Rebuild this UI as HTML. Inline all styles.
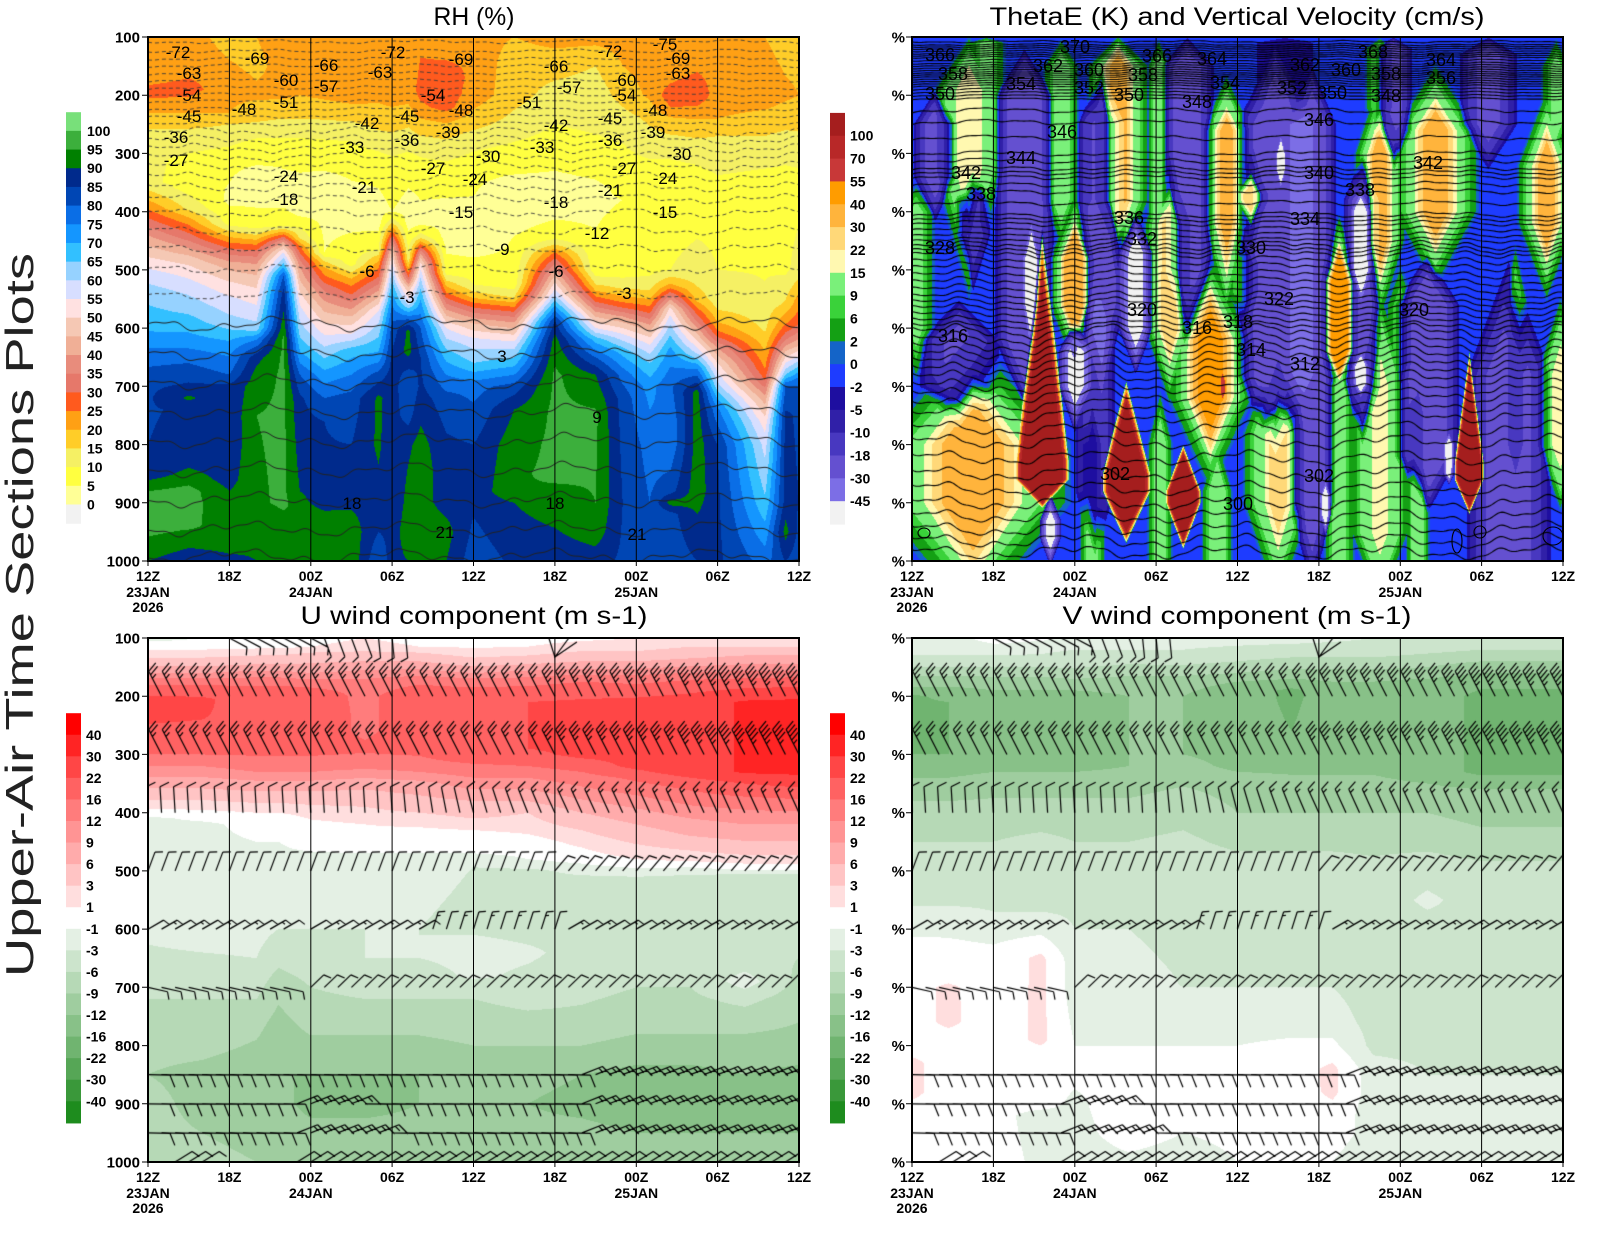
<!DOCTYPE html>
<html><head><meta charset="utf-8">
<style>
html,body{margin:0;padding:0;background:#fff}
body{width:1600px;height:1236px;position:relative;overflow:hidden}
canvas{position:absolute}
#ov{position:absolute;left:0;top:0}
text{font-family:"Liberation Sans",Arial,sans-serif;fill:#000}
.ax{font-size:15px;font-weight:bold}
.tl{font-size:14px;font-weight:bold;text-anchor:middle}
.cb{font-size:14px;font-weight:bold}
.cl{font-size:17px;text-anchor:middle}
.th{font-size:18px;text-anchor:middle}
</style></head><body>
<canvas id="rh" width="651" height="524" style="left:148px;top:37px"></canvas>
<canvas id="th" width="651" height="524" style="left:912px;top:37px"></canvas>
<canvas id="uu" width="651" height="524" style="left:148px;top:638px"></canvas>
<canvas id="vv" width="651" height="524" style="left:912px;top:638px"></canvas>
<svg id="ov" width="1600" height="1236" xmlns="http://www.w3.org/2000/svg">
<g id="geo"></g>
<text x="474" y="25" font-size="25" text-anchor="middle" textLength="81" lengthAdjust="spacingAndGlyphs">RH (%)</text>
<text x="1237" y="25" font-size="25" text-anchor="middle" textLength="495" lengthAdjust="spacingAndGlyphs">ThetaE (K) and Vertical Velocity (cm/s)</text>
<text x="474" y="624" font-size="25" text-anchor="middle" textLength="347" lengthAdjust="spacingAndGlyphs">U wind component (m s-1)</text>
<text x="1237" y="624" font-size="25" text-anchor="middle" textLength="349" lengthAdjust="spacingAndGlyphs">V wind component (m s-1)</text>
<text transform="translate(33,977) rotate(-90)" font-size="39" textLength="724" lengthAdjust="spacingAndGlyphs" style="fill:#222">Upper-Air Time Sections Plots</text>
<g class="ax" text-anchor="end">
<text x="140" y="42.5">100</text><text x="140" y="100.7">200</text><text x="140" y="158.9">300</text><text x="140" y="217.2">400</text><text x="140" y="275.4">500</text><text x="140" y="333.6">600</text><text x="140" y="391.8">700</text><text x="140" y="450.1">800</text><text x="140" y="508.3">900</text><text x="140" y="566.5">1000</text>
<text x="140" y="643.5">100</text><text x="140" y="701.7">200</text><text x="140" y="759.9">300</text><text x="140" y="818.2">400</text><text x="140" y="876.4">500</text><text x="140" y="934.6">600</text><text x="140" y="992.8">700</text><text x="140" y="1051.1">800</text><text x="140" y="1109.3">900</text><text x="140" y="1167.5">1000</text>
<text x="905" y="42.5">%</text><text x="905" y="100.7">%</text><text x="905" y="158.9">%</text><text x="905" y="217.2">%</text><text x="905" y="275.4">%</text><text x="905" y="333.6">%</text><text x="905" y="391.8">%</text><text x="905" y="450.1">%</text><text x="905" y="508.3">%</text><text x="905" y="566.5">%</text>
<text x="905" y="643.5">%</text><text x="905" y="701.7">%</text><text x="905" y="759.9">%</text><text x="905" y="818.2">%</text><text x="905" y="876.4">%</text><text x="905" y="934.6">%</text><text x="905" y="992.8">%</text><text x="905" y="1051.1">%</text><text x="905" y="1109.3">%</text><text x="905" y="1167.5">%</text>
</g>
<g class="tl">
<text x="148" y="581">12Z</text><text x="229.4" y="581">18Z</text><text x="310.8" y="581">00Z</text><text x="392.1" y="581">06Z</text><text x="473.5" y="581">12Z</text><text x="554.9" y="581">18Z</text><text x="636.3" y="581">00Z</text><text x="717.6" y="581">06Z</text><text x="799" y="581">12Z</text>
<text x="148" y="597">23JAN</text><text x="310.8" y="597">24JAN</text><text x="636.3" y="597">25JAN</text><text x="148" y="612">2026</text>
<text x="912" y="581">12Z</text><text x="993.4" y="581">18Z</text><text x="1074.8" y="581">00Z</text><text x="1156.1" y="581">06Z</text><text x="1237.5" y="581">12Z</text><text x="1318.9" y="581">18Z</text><text x="1400.3" y="581">00Z</text><text x="1481.6" y="581">06Z</text><text x="1563" y="581">12Z</text>
<text x="912" y="597">23JAN</text><text x="1074.8" y="597">24JAN</text><text x="1400.3" y="597">25JAN</text><text x="912" y="612">2026</text>
<text x="148" y="1182">12Z</text><text x="229.4" y="1182">18Z</text><text x="310.8" y="1182">00Z</text><text x="392.1" y="1182">06Z</text><text x="473.5" y="1182">12Z</text><text x="554.9" y="1182">18Z</text><text x="636.3" y="1182">00Z</text><text x="717.6" y="1182">06Z</text><text x="799" y="1182">12Z</text>
<text x="148" y="1198">23JAN</text><text x="310.8" y="1198">24JAN</text><text x="636.3" y="1198">25JAN</text><text x="148" y="1213">2026</text>
<text x="912" y="1182">12Z</text><text x="993.4" y="1182">18Z</text><text x="1074.8" y="1182">00Z</text><text x="1156.1" y="1182">06Z</text><text x="1237.5" y="1182">12Z</text><text x="1318.9" y="1182">18Z</text><text x="1400.3" y="1182">00Z</text><text x="1481.6" y="1182">06Z</text><text x="1563" y="1182">12Z</text>
<text x="912" y="1198">23JAN</text><text x="1074.8" y="1198">24JAN</text><text x="1400.3" y="1198">25JAN</text><text x="912" y="1213">2026</text>
</g>
<g class="cb">
<text x="87" y="135.9">100</text><text x="87" y="154.6">95</text><text x="87" y="173.2">90</text><text x="87" y="191.9">85</text><text x="87" y="210.6">80</text><text x="87" y="229.3">75</text><text x="87" y="248">70</text><text x="87" y="266.6">65</text><text x="87" y="285.3">60</text><text x="87" y="304">55</text><text x="87" y="322.7">50</text><text x="87" y="341.4">45</text><text x="87" y="360">40</text><text x="87" y="378.7">35</text><text x="87" y="397.4">30</text><text x="87" y="416.1">25</text><text x="87" y="434.8">20</text><text x="87" y="453.4">15</text><text x="87" y="472.1">10</text><text x="87" y="490.8">5</text><text x="87" y="509.5">0</text>
<text x="850" y="140.7">100</text><text x="850" y="163.6">70</text><text x="850" y="186.4">55</text><text x="850" y="209.3">40</text><text x="850" y="232.1">30</text><text x="850" y="254.9">22</text><text x="850" y="277.8">15</text><text x="850" y="300.6">9</text><text x="850" y="323.5">6</text><text x="850" y="346.3">2</text><text x="850" y="369.1">0</text><text x="850" y="392">-2</text><text x="850" y="414.8">-5</text><text x="850" y="437.7">-10</text><text x="850" y="460.5">-18</text><text x="850" y="483.3">-30</text><text x="850" y="506.2">-45</text>
<text x="86" y="739.8">40</text><text x="86" y="761.3">30</text><text x="86" y="782.9">22</text><text x="86" y="804.4">16</text><text x="86" y="826">12</text><text x="86" y="847.6">9</text><text x="86" y="869.1">6</text><text x="86" y="890.7">3</text><text x="86" y="912.2">1</text><text x="86" y="933.8">-1</text><text x="86" y="955.4">-3</text><text x="86" y="976.9">-6</text><text x="86" y="998.5">-9</text><text x="86" y="1020">-12</text><text x="86" y="1041.6">-16</text><text x="86" y="1063.2">-22</text><text x="86" y="1084.7">-30</text><text x="86" y="1106.3">-40</text>
<text x="850" y="739.8">40</text><text x="850" y="761.3">30</text><text x="850" y="782.9">22</text><text x="850" y="804.4">16</text><text x="850" y="826">12</text><text x="850" y="847.6">9</text><text x="850" y="869.1">6</text><text x="850" y="890.7">3</text><text x="850" y="912.2">1</text><text x="850" y="933.8">-1</text><text x="850" y="955.4">-3</text><text x="850" y="976.9">-6</text><text x="850" y="998.5">-9</text><text x="850" y="1020">-12</text><text x="850" y="1041.6">-16</text><text x="850" y="1063.2">-22</text><text x="850" y="1084.7">-30</text><text x="850" y="1106.3">-40</text>
</g>
<g class="cl">
<text x="178" y="58">-72</text><text x="189" y="79">-63</text><text x="189" y="101">-54</text><text x="189" y="122">-45</text><text x="176" y="143">-36</text><text x="176" y="166">-27</text>
<text x="257" y="64">-69</text><text x="286" y="86">-60</text><text x="286" y="108">-51</text><text x="244" y="115">-48</text><text x="286" y="182">-24</text><text x="286" y="205">-18</text>
<text x="326" y="71">-66</text><text x="326" y="92">-57</text><text x="367" y="129">-42</text><text x="352" y="153">-33</text><text x="364" y="193">-21</text>
<text x="393" y="58">-72</text><text x="380" y="78">-63</text><text x="407" y="122">-45</text><text x="407" y="146">-36</text><text x="367" y="277">-6</text>
<text x="461" y="65">-69</text><text x="433" y="101">-54</text><text x="461" y="116">-48</text><text x="448" y="138">-39</text><text x="433" y="174">-27</text><text x="461" y="218">-15</text><text x="407" y="303">-3</text>
<text x="488" y="162">-30</text><text x="475" y="185">-24</text><text x="502" y="255">-9</text><text x="502" y="362">3</text>
<text x="529" y="108">-51</text><text x="556" y="72">-66</text><text x="569" y="93">-57</text><text x="556" y="131">-42</text><text x="542" y="153">-33</text><text x="556" y="208">-18</text><text x="556" y="277">-6</text>
<text x="352" y="509">18</text><text x="555" y="509">18</text><text x="597" y="239">-12</text><text x="597" y="423">9</text>
<text x="610" y="57">-72</text><text x="624" y="86">-60</text><text x="624" y="101">-54</text><text x="610" y="124">-45</text><text x="610" y="146">-36</text><text x="624" y="174">-27</text><text x="610" y="196">-21</text><text x="624" y="299">-3</text>
<text x="445" y="538">21</text><text x="637" y="540">21</text>
<text x="665" y="50">-75</text><text x="678" y="64">-69</text><text x="678" y="79">-63</text><text x="655" y="116">-48</text><text x="653" y="138">-39</text><text x="679" y="160">-30</text><text x="665" y="184">-24</text><text x="665" y="218">-15</text>
</g>
<g class="th">
<text x="940" y="61">366</text><text x="953" y="80">358</text><text x="940" y="100">350</text><text x="1075" y="53">370</text><text x="1048" y="72">362</text><text x="1021" y="90">354</text><text x="1089" y="76">360</text><text x="1089" y="94">352</text>
<text x="1157" y="62">366</text><text x="1143" y="81">358</text><text x="1129" y="101">350</text><text x="1212" y="65">364</text><text x="1225" y="89">354</text><text x="1197" y="108">348</text>
<text x="1305" y="71">362</text><text x="1292" y="94">352</text><text x="1346" y="76">360</text><text x="1332" y="99">350</text><text x="1373" y="58">368</text><text x="1386" y="80">358</text><text x="1386" y="102">348</text><text x="1441" y="66">364</text><text x="1441" y="84">356</text>
<text x="1062" y="138">346</text><text x="1319" y="126">346</text><text x="1021" y="164">344</text><text x="966" y="179">342</text><text x="981" y="200">338</text><text x="1428" y="169">342</text><text x="1319" y="179">340</text><text x="1360" y="196">338</text>
<text x="1129" y="224">336</text><text x="1142" y="245">332</text><text x="1305" y="225">334</text><text x="1251" y="254">330</text><text x="940" y="254">328</text>
<text x="1279" y="305">322</text><text x="1142" y="316">320</text><text x="1414" y="316">320</text><text x="1238" y="328">318</text><text x="1197" y="334">316</text><text x="953" y="342">316</text><text x="1251" y="356">314</text><text x="1305" y="370">312</text>
<text x="1115" y="480">302</text><text x="1319" y="482">302</text><text x="1238" y="510">300</text>
</g>
<g fill="none" stroke="#000" stroke-width="1.1">
<ellipse cx="924" cy="533" rx="6" ry="5"/><ellipse cx="1457" cy="541" rx="5" ry="12"/><circle cx="1480" cy="532" r="6"/><ellipse cx="1553" cy="536" rx="10" ry="9"/>
</g>
</svg>
<script>
const W=651,H=524;
function hex(h){return [parseInt(h.substr(1,2),16),parseInt(h.substr(3,2),16),parseInt(h.substr(5,2),16)];}
function prof(a,p){if(p<=a[0])return a[1];for(let i=2;i<a.length;i+=2){if(p<=a[i]){const f=(p-a[i-2])/(a[i]-a[i-2]);return a[i-1]+(a[i+1]-a[i-1])*f;}}return a[a.length-1];}
function colField(cols){
  const n=cols.length;
  const cv=cols.map(c=>{const a=new Float32Array(H);for(let y=0;y<H;y++)a[y]=prof(c[1],100+(y+0.5)*900/H);return a;});
  const ix=new Int32Array(W),fx=new Float32Array(W);
  for(let x=0;x<W;x++){const t=(x+0.5)*48/W;let i=0;while(i<n-2&&t>cols[i+1][0])i++;let f=(t-cols[i][0])/(cols[i+1][0]-cols[i][0]);fx[x]=Math.max(0,Math.min(1,f));ix[x]=i;}
  return (x,y)=>cv[ix[x]][y]*(1-fx[x])+cv[ix[x]+1][y]*fx[x];
}
function paint(id,fn,lev,cols){
  const ctx=document.getElementById(id).getContext('2d');
  const img=ctx.createImageData(W,H),d=img.data;const cs=cols.map(hex);
  for(let y=0;y<H;y++){for(let x=0;x<W;x++){const v=fn(x,y);let k=0;while(k<lev.length&&v>=lev[k])k++;const c=cs[k],o=(y*W+x)*4;d[o]=c[0];d[o+1]=c[1];d[o+2]=c[2];d[o+3]=255;}}
  ctx.putImageData(img,0,0);return ctx;
}
/* ---------- RH ---------- */
const rhLev=[0,5,10,15,20,25,30,35,40,45,50,55,60,65,70,75,80,85,90,95,100];
const rhCol=['#f2f2f2','#ffff96','#ffff40','#f5f064','#ffcd28','#ffa014','#ff5a1e','#e6786a','#e88c7c','#f0af96','#f5c8b4','#ffe1e1','#d7deff','#96d2ff','#32c0ff','#1496ff','#0a6ee6','#0046b4','#002a8c','#008000','#3caf3c','#78e07a'];
const rhCols=[
[0,[100,23,170,23,195,27,215,23,240,18,270,13,310,11,350,11,370,17,390,23,405,28,420,33,435,38,450,43,470,48,490,53,510,58,550,64,600,69,650,78,700,84,800,85,850,87,880,95,950,96,1000,90]],
[3,[100,22,160,24,190,27,215,23,240,18,270,13,310,9,360,8,395,14,412,21,428,27,445,33,462,40,480,47,500,52,530,58,570,64,620,72,660,80,700,86,720,91,740,86,800,87,840,90,860,93,880,97,940,96,970,91,1000,87]],
[6,[100,18,140,20,180,22,230,20,250,15,280,11,320,6,380,4,420,8,440,18,455,26,470,33,490,42,520,50,550,56,590,62,630,72,680,80,700,86,800,86,860,88,900,92,950,93,1000,89]],
[8,[100,20,150,19,200,21,240,16,280,9,340,3,420,6,440,15,455,24,470,32,490,40,520,48,560,55,600,62,620,75,650,88,680,92,750,95,900,94,950,91,1000,90]],
[10,[100,22,200,21,240,15,300,6,380,3,425,10,438,24,452,40,470,55,490,66,510,80,540,87,580,91,620,96,900,96,950,92,1000,90]],
[11.2,[100,22,200,20,240,15,300,6,400,3,445,14,462,26,480,34,500,41,530,48,560,55,600,62,640,70,680,80,720,86,800,88,880,90,910,94,1000,93]],
[13,[100,22,150,22,200,21,230,17,260,12,300,7,360,3,470,5,485,15,500,22,515,27,530,33,560,42,600,52,640,62,680,72,720,80,760,85,900,86,920,92,1000,95]],
[15,[100,22,200,22,230,18,260,12,320,6,400,3,490,8,508,17,522,23,537,28,555,35,580,45,610,55,640,68,680,75,720,82,800,85,880,85,900,89,950,93,1000,94]],
[17,[100,22,200,21,240,18,280,12,330,6,420,3,465,10,480,18,500,26,520,33,540,42,570,55,600,62,650,72,680,82,720,91,800,91,900,88,950,85,1000,80]],
[18,[100,23,150,24,200,22,240,18,280,13,330,7,400,5,415,12,432,24,450,36,470,48,500,60,530,68,560,75,600,82,650,86,700,88,800,86,900,85,1000,88]],
[19.2,[100,22,200,22,230,18,280,12,330,6,420,3,482,12,500,22,515,32,530,45,560,60,585,80,605,91,640,92,665,86,700,80,750,83,800,89,900,92,950,94,1000,90]],
[20.1,[100,24,170,26,190,27,220,24,250,18,290,12,340,6,420,4,442,12,455,24,470,38,490,52,520,62,560,72,600,80,650,85,700,86,750,89,800,92,850,93,900,92,1000,95]],
[22,[100,22,140,25,170,28,220,27,240,22,260,17,300,12,340,6,450,3,505,8,522,17,537,24,552,32,572,42,600,55,640,66,680,75,720,82,800,86,900,88,950,92,1000,90]],
[24,[100,22,150,24,200,23,240,18,280,12,330,6,460,3,525,10,545,18,558,26,572,34,592,45,622,57,660,65,700,78,800,85,900,86,950,84,1000,82]],
[27,[100,20,150,17,200,17,250,13,300,8,360,3,525,7,548,15,562,24,577,33,600,45,630,58,660,68,700,82,740,90,800,93,880,95,900,90,1000,86]],
[30,[100,22,150,17,200,13,250,10,300,7,360,3,440,6,458,16,472,26,490,35,510,45,540,58,570,75,590,86,620,92,680,96,850,96,900,93,1000,86]],
[33,[100,22,150,15,200,12,250,11,300,8,360,4,500,6,525,15,540,22,555,30,575,42,600,55,620,68,650,80,680,90,750,96,900,95,950,93,1000,87]],
[35,[100,22,150,20,200,17,250,12,300,9,380,5,505,8,530,14,550,22,565,30,580,40,610,55,640,68,680,78,720,83,900,85,1000,84]],
[37,[100,22,150,22,200,21,240,16,290,12,330,8,500,8,540,16,560,24,575,30,590,38,620,52,660,65,700,73,800,78,900,80,1000,82]],
[38.5,[100,22,150,22,180,25,200,28,220,25,245,18,290,12,330,8,500,10,528,22,548,38,568,52,600,62,640,72,700,79,760,76,800,76,880,83,900,92,920,83,1000,82]],
[40.5,[100,22,150,24,180,27,200,28,225,24,250,18,290,13,340,8,500,11,550,18,570,27,590,35,610,45,640,58,670,75,700,88,710,92,880,93,920,90,1000,85]],
[42,[100,22,200,23,240,20,270,15,300,13,350,9,500,10,560,13,590,20,610,27,630,38,660,50,700,62,740,76,800,85,900,86,1000,86]],
[45.5,[100,20,200,23,250,17,290,13,350,8,520,10,600,14,640,20,670,25,690,30,720,42,760,52,800,58,850,62,900,66,950,72,1000,78]],
[47,[100,18,200,21,250,16,290,12,350,8,500,9,560,16,590,24,605,29,620,35,650,50,680,65,700,80,750,86,900,87,950,92,1000,85]],
[48,[100,18,200,20,300,12,350,8,500,12,550,22,580,27,600,32,630,45,660,62,690,78,720,84,900,85,1000,82]]
];
/* ---------- W ---------- */
const wLev=[-45,-30,-18,-10,-5,-2,0,2,6,9,15,22,30,40,55,70,100];
const wCol=['#f2f2f2','#7c6ee6','#6450d0','#4838c0','#3020a8','#1e0ea0','#1e3cff','#1464c8','#14a014','#3ad23a','#7af07a','#fff8b0','#ffd878','#ffb43c','#ff9c00','#c83838','#b82828','#a51e1e'];
const wF=[
[1.7,1.6,190,250,340,420,-16,1.5],[4.5,1.3,320,380,440,540,-16,1.5],[3.5,3.0,550,620,700,780,-14,1.5],
[8.3,2.2,120,200,620,740,-22,1.5],[8.8,0.6,420,480,560,640,-40,1.5],[10.2,0.8,880,930,960,1010,-50,1.5],
[12,1.2,580,640,700,780,-50,1.5],[13.5,1.5,500,620,880,1000,-12,1.5],[14,1.8,150,250,560,720,-20,1.5],
[16.5,1.3,400,470,600,680,-50,1.5],[20.3,2.0,100,150,500,640,-18,1.5],[26.8,3.0,120,250,680,820,-20,1.5],
[27.2,0.35,270,300,330,360,-50,1.5],[29.5,1.8,150,250,900,1050,-20,1.5],[30.5,0.4,860,890,920,960,-50,1.5],
[33.2,1.4,300,380,700,800,-18,1.5],[33.1,0.8,360,400,500,560,-50,1.5],[33.1,0.6,640,665,695,720,-50,1.5],
[35.5,1.4,100,120,260,330,-16,1.5],[38,2.4,470,560,820,920,-22,1.5],[39.6,0.4,780,800,850,870,-50,1.5],
[44,3.2,480,680,1000,1060,-18,1.5],[42.5,2.2,100,130,250,330,-14,1.5],[27.5,2.5,100,110,190,250,-4,1.5],
[4.2,1.8,110,190,330,520,22,1.5],[0.3,1.5,350,400,600,700,10,1.5],[4.5,5.0,640,800,900,1080,36,1.6],
[9.6,2.0,420,830,860,910,150,3],[11,1.4,100,150,380,470,12,1.5],[12,1.3,400,480,560,640,40,2],
[15.2,1.6,100,150,380,480,34,1.5],[15.8,1.8,690,850,880,970,150,3],[18.2,0.9,100,150,450,560,12,1.5],
[19,1.3,330,420,600,700,30,1.5],[22,2.2,500,620,720,850,48,1.5],[22.9,0.4,660,690,710,740,60,1.5],
[20,1.3,800,880,900,980,150,3],[23.2,1.3,200,260,420,560,32,1.5],[25,1.2,320,370,380,440,40,1.5],
[27,1.8,640,780,900,1050,24,1.5],[31.5,1.2,440,520,640,700,50,2],[31.5,1.2,650,700,1000,1050,12,1.5],
[34.5,1.3,200,300,450,560,36,1.5],[34.5,1.5,560,700,950,1050,18,1.5],[34.5,1.2,100,120,220,300,10,1.5],
[38.6,2.2,180,260,400,500,36,1.5],[41.1,1.1,640,830,860,920,150,3],[46.8,1.5,220,320,420,520,36,1.5],
[44.5,0.9,450,550,800,880,11,1.5],[47.8,1.2,580,680,800,880,22,1.5],[47.5,1.2,100,150,250,330,10,1.5],
[18.3,1.0,700,800,1000,1050,12,1.5],[24.5,1.5,440,490,540,600,10,1.5],[36,1.2,480,560,660,720,8,1.5],
[37.3,0.9,650,750,1000,1050,14,1.5],[13.3,1.0,700,800,1000,1050,12,1.5],[22.5,1.2,780,880,1000,1050,14,1.5],
[5.5,1.5,100,110,180,240,10,1.5]
];
(function(){const n=wF.length;for(let i=0;i<n;i++){const f=wF[i];if(f[6]<0&&f[6]>-40&&f[6]<-5)f[6]*=1.3;if(f[6]>=15&&f[6]<100){wF.push([f[0],f[1]*1.5,Math.max(95,f[2]-40),f[3],f[4],f[5]+40,10,3]);}}})();
function wField(x,y){const t=(x+0.5)*48/W,p=100+(y+0.5)*900/H;let pos=0,neg=0;
  for(let i=0;i<wF.length;i++){const f=wF[i];const dt=Math.abs(t-f[0])/f[1];if(dt>=1)continue;if(p<f[2]||p>f[5])continue;let dp;
    if(p<f[3])dp=(f[3]-p)/(f[3]-f[2]);else if(p>f[4])dp=(p-f[4])/(f[5]-f[4]);else dp=0;const g=1-dt-dp;if(g<=0)continue;
    const val=f[6]*Math.min(1,g*f[7]);if(f[6]>0){if(val>pos)pos=val;}else neg+=val;}
  return -1+pos+neg;}
/* ---------- U / V ---------- */
const uvLev=[-40,-30,-22,-16,-12,-9,-6,-3,-1,1,3,6,9,12,16,22,30,40];
const uvCol=['#1e8c1e','#3a983a','#56a656','#70b470','#88c188','#9fcd9f','#b6d9b6','#cce4cc','#e4f0e4','#ffffff','#ffdede','#ffc4c4','#ffabab','#ff9494','#ff7c7c','#ff6262','#ff4646','#ff2424','#ff0000'];
const uCols=[
[0,[100,-2,112,0,128,2,145,5,160,9,175,14,190,19,205,24,240,23,270,19,300,16,320,12,345,8,365,5,385,2,398,0.5,410,-1.5,600,-2.5,680,-4,720,-6,800,-8,850,-9,900,-8,950,-8,1000,-6]],
[4,[100,-1,112,0,128,2,145,5,160,9,175,14,190,19,205,23,240,22,270,19,300,16,320,12,345,8,365,5,385,2,400,0.5,420,-1.5,600,-2,680,-4,720,-6,800,-8,850,-10,900,-10,950,-9,1000,-8]],
[8,[100,0,115,0.5,130,3,145,6,160,10,175,14,190,18,240,21,280,19,310,15,330,12,350,8,370,5,390,2,410,0,470,-1.5,600,-2,650,-3,700,-5,760,-8,850,-11,900,-11,950,-10,1000,-9]],
[9.6,[100,0,115,0.5,130,3,145,6,160,10,175,14,190,18,240,20,280,19,310,15,330,12,350,8,370,5,390,2,410,0,470,-1.5,600,-3,650,-5,700,-8,760,-10,850,-12,900,-11,950,-10,1000,-9]],
[12,[100,0,115,1,130,4,150,7,165,10,180,15,195,18,240,19,280,19,310,15,330,12,350,8,370,5,395,2,420,0.5,460,-0.5,480,-2,600,-3,650,-4,700,-6,760,-8,850,-12,900,-13,950,-11,1000,-9]],
[16,[100,1,115,2,130,4,150,8,165,11,180,14,200,15,260,15,290,17,320,13,340,9,360,6,390,3,420,1,460,0,480,-2,600,-3,650,-3,700,-5,760,-8,850,-12,900,-13,950,-11,1000,-9]],
[20,[100,0,115,1,130,4,150,8,165,12,180,16,200,19,280,19,310,15,330,12,350,8,380,5,410,2,440,0,470,-1,500,-2.5,600,-3,650,-3,700,-5,760,-8,850,-12,900,-12,950,-11,1000,-10]],
[24,[100,-0.5,112,0.5,128,2,145,5,160,9,175,14,190,17,210,20,300,20,320,15,340,12,360,9,380,6,410,3,430,1,440,0,470,-1,490,-3,600,-3.5,630,-2,680,-2.5,720,-6,800,-9,850,-12,900,-12,950,-10,1000,-10]],
[28,[100,0,115,1,130,3,145,6,160,10,175,14,190,18,210,22,290,22,320,16,340,12,360,9,380,6,400,3,430,1.5,450,0,480,-1,500,-3.5,600,-4,640,-2.5,700,-4,760,-7,800,-9,850,-11,900,-12,950,-11,1000,-9]],
[32,[100,0.5,115,2,130,4,145,7,160,11,175,16,195,20,210,23,300,24,320,18,340,14,370,10,400,6,430,3,460,1,480,0,495,-2,520,-4,600,-4,650,-4,700,-5,760,-7,800,-9,850,-12,900,-13,950,-11,1000,-9]],
[36,[100,1,115,2,130,4,145,7,160,11,175,15,195,20,210,24,320,24,340,17,370,12,400,8,430,5,460,2.5,480,1,490,0,500,-2,520,-4,600,-5,650,-4,700,-6,760,-8,800,-10,850,-13,900,-14,950,-12,1000,-10]],
[40,[100,1.5,115,3,130,5,145,8,160,12,175,17,195,22,210,26,330,26,350,18,380,13,410,9,440,6,465,3,480,1.5,490,0,500,-2.5,520,-4,600,-5,650,-5,700,-6,760,-8,800,-10,850,-13,900,-14,950,-12,1000,-10]],
[44,[100,2,115,3,130,6,145,9,160,13,175,18,195,25,210,31,330,31,350,22,380,14,410,10,440,7,465,4,480,2,495,0,505,-3,600,-6,650,-5,690,-1.5,720,-5,760,-8,800,-10,850,-12,900,-14,950,-12,1000,-10]],
[48,[100,2,115,3,130,6,145,9,160,13,175,19,195,26,210,32,330,32,350,24,380,15,410,10,440,7,465,4,480,2,495,0,505,-3,600,-6,650,-6,700,-7,760,-9,800,-10,850,-13,900,-14,950,-12,1000,-10]]
];
const vCols=[
[0,[100,-2,130,-3,150,-6,170,-10,190,-13,200,-17,300,-16,330,-13,360,-10,400,-8,450,-6,500,-4,560,-3,600,-2,620,-0.5,700,0,800,0,830,1.5,880,1.5,920,0,1000,0]],
[2.7,[100,-2,130,-3,150,-6,170,-10,190,-13,210,-16,300,-16,330,-13,360,-10,400,-8,450,-6,500,-4,560,-3,600,-1.5,630,-0.5,680,0,700,1.5,760,1.5,790,0,1000,0]],
[6,[100,0,115,-1.5,140,-4,160,-8,180,-11,200,-13,320,-13,350,-10,400,-8,450,-6,500,-4,570,-3,600,-2,640,-0.5,1000,0]],
[9.5,[100,-0.5,115,-2,140,-4,160,-8,180,-11,200,-13,320,-13,350,-10,400,-8,450,-5,500,-3,570,-3,610,-1,650,1.5,790,1.5,820,0,900,0,920,-2,1000,-1.5]],
[12,[100,-1.5,120,-3,145,-5,165,-8,180,-11,200,-13,320,-13,350,-10,400,-8,450,-6,500,-4,600,-3,660,-2,700,-2,750,-1.5,800,-1,850,-0.5,900,-1.5,1000,-2]],
[16,[100,-1.5,120,-3,145,-6,165,-9,180,-11,200,-12,320,-12,350,-10,400,-8,450,-6,500,-4,600,-3,680,-2,720,-3,760,-2,800,-1,850,-0.5,900,0.5,950,0,1000,-1.5]],
[20,[100,-2,120,-3,140,-5,160,-8,175,-11,200,-12,300,-12,330,-10,380,-8,430,-6,480,-4,600,-4,700,-3,760,-2,800,-1,850,-0.5,900,-0.5,950,-1,1000,-2]],
[24,[100,-2,120,-3.5,140,-6,160,-9,175,-12,200,-14,260,-14,320,-13,350,-10,400,-9,450,-7,500,-4,600,-4,700,-3,760,-2,800,-1,900,0.5,950,-0.5,1000,-1]],
[28,[100,-2,120,-4,140,-7,160,-10,175,-13,190,-17,260,-16,320,-13,350,-11,400,-9,450,-7,500,-4,600,-3,650,-5,700,-3,760,-2,800,-0.5,850,0,900,-0.5,1000,-1]],
[31,[100,-2.5,120,-4,140,-7,160,-10,175,-12,200,-14,320,-13,350,-11,400,-9,450,-7,500,-4,600,-4,700,-3,760,-2,800,-0.5,840,1.5,880,1.5,920,0,1000,-1]],
[34,[100,-3,120,-4,140,-7,160,-10,175,-12,200,-13,320,-13,350,-11,400,-9,450,-7,500,-5,600,-4,700,-4,800,-3.5,850,-2,900,-2,950,-1.5,1000,-2]],
[38,[100,-3,120,-5,140,-8,160,-10,175,-13,200,-14,330,-14,360,-11,400,-9,450,-7,500,-4,550,-2.5,600,-4,700,-4,800,-3.5,850,-3,900,-3,950,-2.5,1000,-2.5]],
[42,[100,-3,120,-6,140,-9,160,-12,175,-15,200,-17,330,-17,360,-12,400,-10,450,-8,500,-5,560,-4,600,-4,700,-4,800,-4,850,-3,900,-3,950,-3,1000,-2]],
[48,[100,-3,120,-6,140,-9,160,-12,175,-15,200,-17,330,-17,360,-12,400,-10,450,-8,500,-5,600,-4,700,-4,800,-4,850,-3,900,-3,950,-3,1000,-2]]
];
/* ---------- lines ---------- */
function lineSet(ctx,list,amp,style,ph){
  list.forEach((e,k)=>{const v=e[0],p0=e[1],A=amp(p0);ctx.beginPath();
    for(let x=0;x<=W;x+=2){const t=x*48/W;const p=p0+A*(Math.sin(0.55*t+k*ph)+0.6*Math.sin(1.7*t+0.8+k*ph*1.3)+0.25*Math.sin(3.7*t+k*ph*1.7));const y=(p-100)*H/900;if(x===0)ctx.moveTo(x,y);else ctx.lineTo(x,y);}
    style(ctx,v);ctx.stroke();});
  ctx.setLineDash([]);
}
/* ---------- barbs ---------- */
const C67=Math.cos(67*Math.PI/180),S67=Math.sin(67*Math.PI/180);
function barb(ctx,x,y,dx,dy,L,n,h,fl){
  const ex=x+dx*L,ey=y+dy*L;ctx.moveTo(x,y);ctx.lineTo(ex,ey);
  const fx=dx*C67-dy*S67,fy=dx*S67+dy*C67;let pos=0;
  for(let i=0;i<n;i++){const bx=ex-dx*pos,by=ey-dy*pos;ctx.moveTo(bx,by);ctx.lineTo(bx+fx*fl,by+fy*fl);pos+=4;}
  if(h){const bx=ex-dx*pos,by=ey-dy*pos;ctx.moveTo(bx,by);ctx.lineTo(bx+fx*fl*0.5,by+fy*fl*0.5);}
}
function spec(p,t){
  let d,L,n,h,fl;
  if(p===200||p===300){d=[-0.46,-0.89];L=28;n=t<30?2:(t<40?3:4);h=1;fl=11;}
  else if(p===400){const a=Math.min(1,Math.max(0,(t-18)/12));d=[-0.06-0.4*a,-1];L=26;n=1;h=t>26?1:0;fl=10;}
  else if(p===500){d=t<30?[0.35,-0.94]:[0.65,-0.76];L=20;n=1;h=0;fl=8;}
  else if(p===600){if(t===11)return null;d=(t>=21&&t<=30)?[0.3,-0.95]:[0.87,-0.5];L=18;n=1;h=t%2;fl=7;}
  else if(p===700){if(t===11)return null;d=t<11?[0.97,0.22]:[0.72,-0.69];L=t<11?20:18;n=1;h=0;fl=8;}
  else if(p>=850&&p<=950){
    let up=t>=32;
    if(p===900&&t>=11&&t<=15)up=true;
    if(p===950&&t>=11&&t<=17)up=true;
    d=up?[0.93,-0.37]:[1,0.02];L=22;n=1;h=up?1:0;fl=13;}
  else if(p===1000){if(t<11&&(t<2||t>4))return null;d=[0.85,-0.53];L=20;n=1;h=0;fl=9;}
  else return null;
  const m=Math.hypot(d[0],d[1]);return [d[0]/m,d[1]/m,L,n,h,fl];
}
function drawBarbs(ctx){
  ctx.save();ctx.beginPath();ctx.rect(0,0,W,H);ctx.clip();
  ctx.strokeStyle='#000';ctx.lineWidth=1.2;ctx.beginPath();
  const rows=[200,300,400,500,600,700,850,900,950,1000];
  for(const p of rows){for(let t=0;t<=48;t++){const s=spec(p,t);if(!s)continue;barb(ctx,t*W/48,(p-100)*H/900,s[0],s[1],s[2],s[3],s[4],s[5]);}}
  for(let t=6;t<=19;t++){let d=t<13?[0.88,0.47]:(t<17?[0.35,0.94]:[0.1,1]);barb(ctx,t*W/48,0,d[0],d[1],20,1,0,8);}
  const vx=30*W/48;ctx.moveTo(vx-6,0);ctx.lineTo(vx,19);ctx.lineTo(vx+14,0);ctx.moveTo(vx,19);ctx.lineTo(vx+22,4);
  ctx.stroke();ctx.restore();
}
/* ---------- render ---------- */
const rhc=paint('rh',colField(rhCols),rhLev,rhCol);
const Tp=[[-75,108],[-72,124],[-69,137],[-66,149],[-63,162],[-60,174],[-57,187],[-54,199],[-51,211],[-48,224],[-45,236],[-42,249],[-39,263],[-36,277],[-33,291],[-30,306],[-27,322],[-24,340],[-21,358],[-18,378],[-15,402],[-12,432],[-9,463],[-6,498],[-3,543],[0,593],[3,643],[6,693],[9,743],[12,793],[15,843],[18,895],[21,945],[24,992]];
lineSet(rhc,Tp,p0=>p0<250?2:(p0<560?5:8),(c,v)=>{if(v<0){c.setLineDash([4,3]);c.strokeStyle='#3a3a3a';c.lineWidth=0.9;}else{c.setLineDash([]);c.strokeStyle='#222';c.lineWidth=1;}},0.22);

const thc=paint('th',wField,wLev,wCol);
const thTab=[[371,108],[370,113],[368,120],[366,128],[364,135],[362,145],[360,153],[358,161],[356,168],[354,176],[352,184],[350,195],[348,206],[346,246],[344,300],[342,325],[340,340],[338,365],[336,405],[334,420],[332,440],[330,458],[328,472],[326,495],[324,520],[322,545],[320,565],[318,587],[316,606],[314,632],[312,658],[310,685],[308,715],[306,750],[304,795],[302,850],[300,900],[298,945],[296,985]];
function thP(th){for(let i=0;i<thTab.length-1;i++){const a=thTab[i],b=thTab[i+1];if(th<=a[0]&&th>=b[0]){const f=(a[0]-th)/(a[0]-b[0]);return a[1]+(b[1]-a[1])*f;}}return 1000;}
const thList=[];for(let th=371;th>=296;th--)thList.push([th,thP(th)]);
lineSet(thc,thList,p0=>p0<220?1.2:(p0<450?3:(p0<600?5:8)),(c,v)=>{c.strokeStyle='#000';c.lineWidth=1.1;},0.06);

const uc=paint('uu',colField(uCols),uvLev,uvCol);drawBarbs(uc);
const vc=paint('vv',colField(vCols),uvLev,uvCol);drawBarbs(vc);

/* ---------- geometry ---------- */
const NS='http://www.w3.org/2000/svg',g=document.getElementById('geo');
function el(tag,attrs){const e=document.createElementNS(NS,tag);for(const k in attrs)e.setAttribute(k,attrs[k]);g.appendChild(e);return e;}
let path='';
[[148,37],[912,37],[148,638],[912,638]].forEach(([x0,y0])=>{
  for(let k=1;k<8;k++){const x=x0+k*W/8;path+='M'+x.toFixed(1)+' '+y0+'V'+(y0+H);}
  for(let k=0;k<=8;k++){const x=x0+k*W/8;path+='M'+x.toFixed(1)+' '+(y0+H)+'V'+(y0+H+5);}
  for(let k=0;k<10;k++){const y=y0+k*H/9;path+='M'+(x0-6)+' '+y.toFixed(1)+'H'+x0;}
});
el('path',{d:path,stroke:'#000','stroke-width':1,fill:'none'});
[[148,37],[912,37],[148,638],[912,638]].forEach(([x0,y0])=>{el('rect',{x:x0,y:y0,width:W,height:H,fill:'none',stroke:'#000','stroke-width':2});});
function cbar(x,y,h,cols){cols.forEach((c,i)=>{el('rect',{x:x,y:(y+i*h).toFixed(2),width:15,height:(h+0.6).toFixed(2),fill:c});});}
cbar(66,112.2,18.68,rhCol.slice().reverse());
cbar(830,112.9,22.84,wCol.slice().reverse());
cbar(66,713.2,21.56,uvCol.slice().reverse());
cbar(830,713.2,21.56,uvCol.slice().reverse());
</script>
</body></html>
